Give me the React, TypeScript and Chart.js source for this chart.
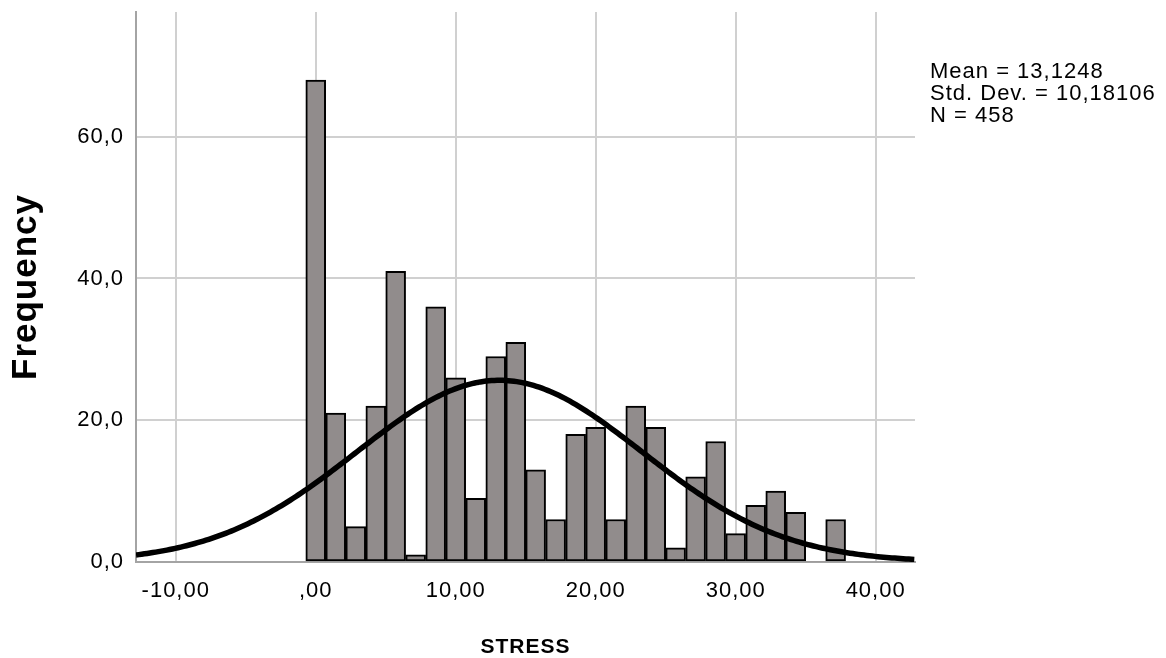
import React, { useEffect, useRef } from "react";
import { Chart, registerables } from "chart.js";

Chart.register(...registerables);

// ---- data ----
const binCenters = [
  0, 1.43, 2.86, 4.29, 5.71, 7.14, 8.57, 10, 11.43, 12.86, 14.29, 15.71, 17.14, 18.57,
  20, 21.43, 22.86, 24.29, 25.71, 27.14, 28.57, 30, 31.43, 32.86, 34.29, 35.71, 37.14,
];
const frequencies = [
  68, 21, 5, 22, 41, 1, 36, 26, 9, 29, 31, 13, 6, 18, 19, 6, 22, 19, 2, 12, 17, 4, 8, 10, 7, 0, 6,
];
const curveMean = 13.1248;
const curveSD = 10.18106;
const curveN = 458;
const binWidth = 10 / 7;

const xTickValues = [-10, 0, 10, 20, 30, 40];
const xTickLabels = ["-10,00", ",00", "10,00", "20,00", "30,00", "40,00"];
const yTickValues = [0, 20, 40, 60];
const yTickLabels = ["0,0", "20,0", "40,0", "60,0"];
const statsLines = ["Mean = 13,1248", "Std. Dev. = 10,18106", "N = 458"];

const X_MIN = -12.84;
const X_MAX = 42.81;
const Y_MAX = 77.6;

function normalCurve() {
  const pts: { x: number; y: number }[] = [];
  const k = (curveN * binWidth) / (curveSD * Math.sqrt(2 * Math.PI));
  for (let x = X_MIN; x <= X_MAX + 0.001; x += 0.2) {
    const z = (x - curveMean) / curveSD;
    pts.push({ x, y: k * Math.exp(-0.5 * z * z) });
  }
  return pts;
}

const FONT = '"Liberation Sans", Arial, sans-serif';

export default function App() {
  const ref = useRef<HTMLCanvasElement | null>(null);
  useEffect(() => {
    if (!ref.current) return;
    const spacingPlugin = {
      id: "spacing",
      beforeDraw(chart: any) {
        chart.ctx.letterSpacing = "1px";
      },
      afterDraw(chart: any) {
        const ctx = chart.ctx;
        ctx.save();
        ctx.font = `22px ${FONT}`;
        ctx.letterSpacing = "1px";
        ctx.fillStyle = "#000";
        ctx.textAlign = "left";
        ctx.textBaseline = "alphabetic";
        statsLines.forEach((s, i) => ctx.fillText(s, 930, 78 + i * 22));
        ctx.restore();
      },
    };
    const chart = new Chart(ref.current, {
      type: "bar",
      data: {
        datasets: [
          {
            type: "line",
            data: normalCurve(),
            borderColor: "#000",
            borderWidth: 5.5,
            pointRadius: 0,
            tension: 0,
            fill: false,
            order: 0,
          } as any,
          {
            type: "bar",
            data: binCenters.map((x, i) => ({ x, y: frequencies[i] })),
            backgroundColor: "#918c8c",
            borderColor: "#000",
            borderWidth: (c: any) => (c.raw && c.raw.y === 0 ? 0 : 2),
            borderSkipped: false,
            barPercentage: 1,
            categoryPercentage: 1,
            order: 1,
          } as any,
        ],
      },
      options: {
        responsive: false,
        animation: false,
        devicePixelRatio: 1,
        layout: { padding: { top: 12, right: 251, left: 0, bottom: 0 } },
        plugins: { legend: { display: false }, tooltip: { enabled: false } },
        scales: {
          x: {
            type: "linear",
            min: X_MIN,
            max: X_MAX,
            offset: false,
            afterFit: (s: any) => {
              s.height = 96;
              s.paddingLeft = 0;
              s.paddingRight = 0;
            },
            afterBuildTicks: (s: any) => {
              s.ticks = xTickValues.map((v) => ({ value: v }));
            },
            grid: { offset: false, color: "#d0d0d0", lineWidth: 2, drawTicks: false },
            border: { color: "#a4a4a4", width: 2 },
            ticks: {
              padding: 16,
              color: "#000",
              font: { family: FONT, size: 22 },
              maxRotation: 0,
              autoSkip: false,
              callback: (v: any) => {
                const i = xTickValues.indexOf(Number(v));
                return i >= 0 ? xTickLabels[i] : "";
              },
            },
            title: {
              display: true,
              text: "STRESS",
              color: "#000",
              font: { family: FONT, size: 21, weight: "bold", lineHeight: 1 },
              padding: { top: 0, bottom: 0 },
            },
          },
          y: {
            type: "linear",
            min: 0,
            max: Y_MAX,
            afterFit: (s: any) => {
              s.width = 136;
              s.paddingTop = 0;
              s.paddingBottom = 0;
            },
            afterBuildTicks: (s: any) => {
              s.ticks = yTickValues.map((v) => ({ value: v }));
            },
            grid: { color: "#d0d0d0", lineWidth: 2, drawTicks: false },
            border: { color: "#a4a4a4", width: 2 },
            ticks: {
              padding: 12,
              color: "#000",
              font: { family: FONT, size: 22 },
              callback: (v: any) => {
                const i = yTickValues.indexOf(Number(v));
                return i >= 0 ? yTickLabels[i] : "";
              },
            },
            title: {
              display: true,
              text: "Frequency",
              color: "#000",
              font: { family: FONT, size: 35, weight: "bold" },
              padding: { top: 5, bottom: 0 },
            },
          },
        },
      },
      plugins: [spacingPlugin],
    });
    return () => chart.destroy();
  }, []);
  return (
    <div style={{ position: "absolute", left: 0, top: 0, width: 1166, height: 658, background: "#fff" }}>
      <canvas ref={ref} width={1166} height={658} />
    </div>
  );
}
